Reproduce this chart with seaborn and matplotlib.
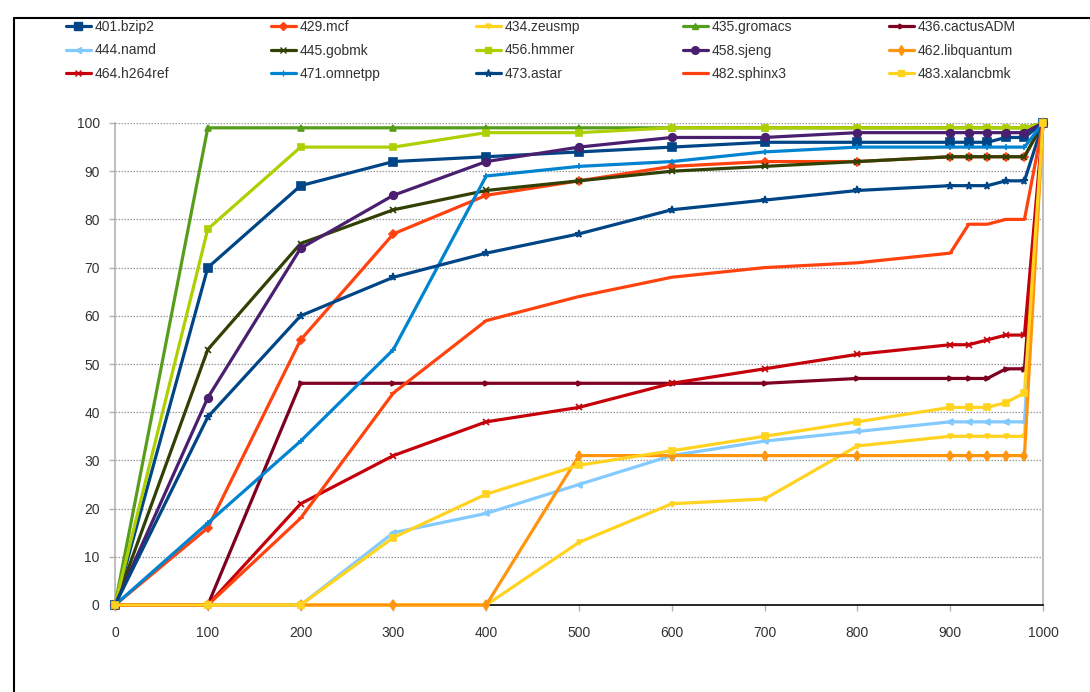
import matplotlib
matplotlib.use("Agg")
import matplotlib.pyplot as plt
from matplotlib.lines import Line2D
import seaborn as sns
import pandas as pd

# Sample points along the x axis
x_points = [0, 100, 200, 300, 400, 500, 600, 700, 800, 900, 920, 940, 960, 980, 1000]

benchmarks = ["401.bzip2", "429.mcf", "434.zeusmp", "435.gromacs", "436.cactusADM",
              "444.namd", "445.gobmk", "456.hmmer", "458.sjeng", "462.libquantum",
              "464.h264ref", "471.omnetpp", "473.astar", "482.sphinx3", "483.xalancbmk"]

bzip2      = [0, 70, 87, 92, 93, 94, 95, 96, 96, 96, 96, 96, 97, 97, 100]
mcf        = [0, 16, 55, 77, 85, 88, 91, 92, 92, 93, 93, 93, 93, 93, 100]
zeusmp     = [0, 0, 0, 0, 0, 13, 21, 22, 33, 35, 35, 35, 35, 35, 100]
gromacs    = [0, 99, 99, 99, 99, 99, 99, 99, 99, 99, 99, 99, 99, 99, 100]
cactusADM  = [0, 0, 46, 46, 46, 46, 46, 46, 47, 47, 47, 47, 49, 49, 100]
namd       = [0, 0, 0, 15, 19, 25, 31, 34, 36, 38, 38, 38, 38, 38, 100]
gobmk      = [0, 53, 75, 82, 86, 88, 90, 91, 92, 93, 93, 93, 93, 93, 100]
hmmer      = [0, 78, 95, 95, 98, 98, 99, 99, 99, 99, 99, 99, 99, 99, 100]
sjeng      = [0, 43, 74, 85, 92, 95, 97, 97, 98, 98, 98, 98, 98, 98, 100]
libquantum = [0, 0, 0, 0, 0, 31, 31, 31, 31, 31, 31, 31, 31, 31, 100]
h264ref    = [0, 0, 21, 31, 38, 41, 46, 49, 52, 54, 54, 55, 56, 56, 100]
omnetpp    = [0, 17, 34, 53, 89, 91, 92, 94, 95, 95, 95, 95, 95, 95, 100]
astar      = [0, 39, 60, 68, 73, 77, 82, 84, 86, 87, 87, 87, 88, 88, 100]
sphinx3    = [0, 0, 18, 44, 59, 64, 68, 70, 71, 73, 79, 79, 80, 80, 100]
xalancbmk  = [0, 0, 0, 14, 23, 29, 32, 35, 38, 41, 41, 41, 42, 44, 100]

series = [bzip2, mcf, zeusmp, gromacs, cactusADM, namd, gobmk, hmmer, sjeng,
          libquantum, h264ref, omnetpp, astar, sphinx3, xalancbmk]

colors = ["#004586", "#ff420e", "#ffd320", "#579d1c", "#7e0021",
          "#83caff", "#314004", "#aecf00", "#4b1f6f", "#ff950e",
          "#c5000b", "#0084d1", "#004586", "#ff420e", "#ffd320"]
markers = ["s", "D", "v", "^", ">", "<", "x", "s", "o", "d",
           "x", "+", "*", "_", "s"]
msizes = [5.5, 4.5, 3.5, 5, 3.5, 4, 4.5, 5, 5.5, 5, 5, 5, 5.5, 4, 4.5]

rows = []
for name, vals in zip(benchmarks, series):
    for xv, yv in zip(x_points, vals):
        rows.append({"benchmark": name, "x": xv, "value": yv})
df = pd.DataFrame(rows)

sns.set_style("white")
plt.rcParams["font.family"] = ["Liberation Sans", "DejaVu Sans"]

fig = plt.figure(figsize=(10.9, 6.92), dpi=100)
ax = fig.add_axes([115 / 1090, 1 - 605 / 692, (1043 - 115) / 1090, (605 - 123) / 692])

for name, c, m, ms in zip(benchmarks, colors, markers, msizes):
    sub = df[df["benchmark"] == name]
    sns.lineplot(data=sub, x="x", y="value", ax=ax, color=c, marker=m,
                 markersize=ms, markeredgecolor=c, markeredgewidth=1.2,
                 linewidth=2.3, legend=False, clip_on=False, zorder=3)

ax.set_xlim(0, 1000)
ax.set_ylim(0, 100)
ax.set_xticks(range(0, 1001, 100))
ax.set_yticks(range(0, 101, 10))
ax.set_xlabel("")
ax.set_ylabel("")

for y in range(10, 101, 10):
    ax.axhline(y, color="#9a9a9a", linestyle=(0, (1.2, 1.2)), linewidth=0.9, zorder=1)

ax.spines["top"].set_visible(False)
ax.spines["left"].set_color("#b3b3b3")
ax.spines["right"].set_color("#b3b3b3")
ax.spines["bottom"].set_color("#000000")
for side in ["left", "right", "bottom"]:
    ax.spines[side].set_linewidth(1.2)

ax.tick_params(axis="x", direction="out", length=4, width=1, color="#b3b3b3",
               pad=11, labelsize=10, labelcolor="#333333", bottom=True)
ax.tick_params(axis="y", direction="out", length=4, width=1, color="#b3b3b3",
               pad=7, labelsize=10, labelcolor="#333333", left=True)

# Legend: five columns, three rows across the top
handles = [Line2D([], [], color=c, marker=m, markersize=ms, markeredgecolor=c,
                  linewidth=2.3) for c, m, ms in zip(colors, markers, msizes)]
col_x = [63, 268, 473, 680, 886]
for ci in range(5):
    idx = [ci, ci + 5, ci + 10]
    fig.legend([handles[i] for i in idx], [benchmarks[i] for i in idx],
               loc="upper left", bbox_to_anchor=(col_x[ci] / 1090, 1 - 17 / 692),
               frameon=False, fontsize=10, handlelength=1.8, handletextpad=0.25,
               labelspacing=0.70, borderaxespad=0, borderpad=0.2,
               labelcolor="#333333")

# Outer frame of the chart area
fig.add_artist(Line2D([14 / 1090, 14 / 1090], [0, 1 - 18 / 692],
                      transform=fig.transFigure, color="black", linewidth=1.5))
fig.add_artist(Line2D([14 / 1090, 1], [1 - 18 / 692, 1 - 18 / 692],
                      transform=fig.transFigure, color="black", linewidth=1.5))

fig.savefig("out.png", dpi=100)
